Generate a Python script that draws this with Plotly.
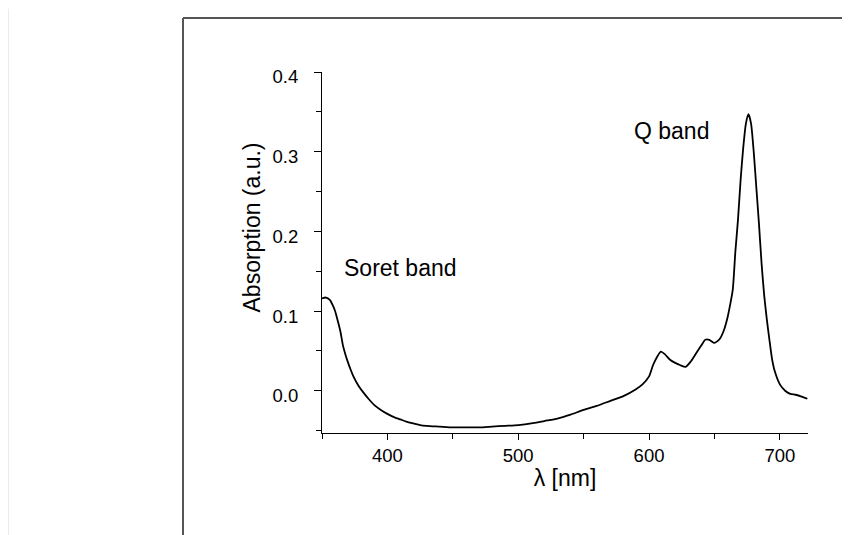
import plotly.graph_objects as go

wavelength = [350, 353, 356, 358, 360, 362, 364, 366, 368, 370, 372, 374, 378, 382, 386, 390, 395,
              400, 405, 410, 415, 420, 425, 430, 440, 450, 460, 470, 480, 490, 500, 510, 520, 530,
              540, 550, 560, 570, 580, 590, 595, 600, 603, 606, 609, 612, 616, 620, 624, 628, 632,
              636, 640, 643, 646, 650, 654, 657, 660, 662, 664, 666, 668, 670, 672, 674, 676, 678,
              680, 682, 684, 686, 688, 690, 692, 694, 696, 700, 704, 708, 712, 716, 721]
absorption = [0.116, 0.117, 0.114, 0.108, 0.100, 0.088, 0.075, 0.057, 0.045, 0.035, 0.026, 0.018,
              0.006, -0.003, -0.011, -0.018, -0.024, -0.029, -0.033, -0.036, -0.039, -0.041,
              -0.043, -0.044, -0.045, -0.046, -0.046, -0.046, -0.045, -0.044, -0.043, -0.041,
              -0.038, -0.035, -0.030, -0.024, -0.019, -0.013, -0.007, 0.002, 0.008, 0.018, 0.032,
              0.042, 0.049, 0.046, 0.039, 0.035, 0.032, 0.030, 0.037, 0.047, 0.057, 0.064, 0.064,
              0.060, 0.065, 0.075, 0.092, 0.108, 0.127, 0.175, 0.215, 0.265, 0.305, 0.335, 0.347,
              0.335, 0.300, 0.255, 0.210, 0.160, 0.120, 0.090, 0.064, 0.040, 0.025, 0.008, 0.000,
              -0.004, -0.005, -0.007, -0.010]

x_ticks = [400, 500, 600, 700]
y_ticks = [0.0, 0.1, 0.2, 0.3, 0.4]
y_tick_labels = ["0.0", "0.1", "0.2", "0.3", "0.4"]

font_family = "Liberation Sans, Arial, sans-serif"

fig = go.Figure()
fig.add_trace(go.Scatter(x=wavelength, y=absorption, mode="lines",
                         line=dict(color="black", width=1.8, shape="spline", smoothing=0.6),
                         showlegend=False, hoverinfo="skip"))

fig.update_layout(
    width=850, height=535,
    margin=dict(l=314, r=50, t=64, b=110),
    paper_bgcolor="white", plot_bgcolor="white",
    font=dict(family=font_family, color="black", size=18.5),
    xaxis=dict(range=[350, 721.5], tickvals=x_ticks, showgrid=False, zeroline=False,
               showline=True, linecolor="black", linewidth=1.2,
               ticks="outside", ticklen=6, tickwidth=1.2, tickcolor="black",
               minor=dict(dtick=50, tick0=350, ticks="outside", ticklen=5, tickcolor="black", tickwidth=1),
               tickfont=dict(size=18.5),
               title=dict(text="λ [nm]", font=dict(size=23), standoff=4)),
    yaxis=dict(range=[-0.053, 0.4], tickvals=y_ticks, ticktext=y_tick_labels,
               showgrid=False, zeroline=False,
               showline=True, linecolor="black", linewidth=1.2,
               ticks="outside", ticklen=7, tickwidth=1.2, tickcolor="black",
               minor=dict(dtick=0.05, tick0=0, ticks="outside", ticklen=5, tickcolor="black", tickwidth=1),
               tickfont=dict(size=18.5), ticklabelstandoff=12, ticklabelshift=5),
    shapes=[
        dict(type="line", xref="paper", yref="paper", x0=-0.286, x1=-0.286, y0=1.1496, y1=-0.3,
             line=dict(color="#555555", width=2)),
        dict(type="line", xref="paper", yref="paper", x0=-0.286, x1=1.1, y0=1.1496, y1=1.1496,
             line=dict(color="#555555", width=2)),
        dict(type="line", xref="paper", yref="paper", x0=-0.646, x1=-0.646, y0=1.175, y1=-0.3,
             line=dict(color="#ebebeb", width=2)),
    ],
    annotations=[
        dict(x=-0.144, y=0.5693, xref="paper", yref="paper", text="Absorption (a.u.)",
             textangle=-90, showarrow=False, xanchor="center", yanchor="middle",
             font=dict(size=23)),
        dict(x=365.3, y=0.154, text="Soret band", showarrow=False, xanchor="left",
             yanchor="middle", font=dict(size=23)),
        dict(x=586.6, y=0.326, text="Q band", showarrow=False, xanchor="left",
             yanchor="middle", font=dict(size=23)),
    ],
)

fig.write_html("out.html")
